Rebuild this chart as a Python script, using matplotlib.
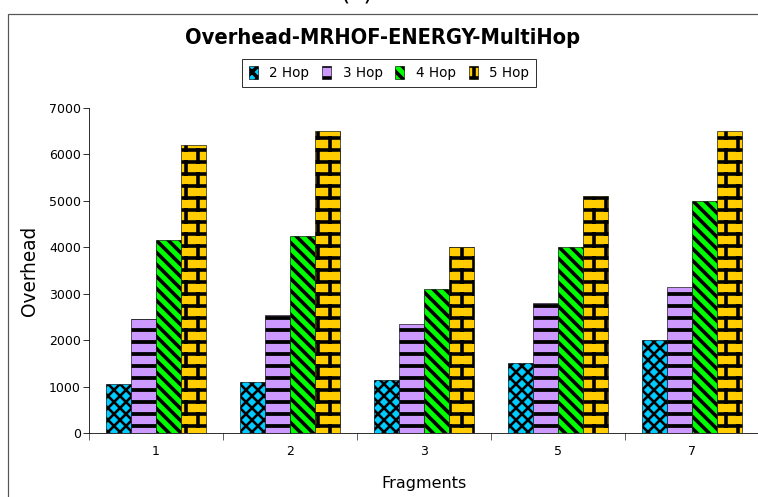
import numpy as np
import matplotlib
matplotlib.use('Agg')
import matplotlib.pyplot as plt
import matplotlib.hatch as mhatch
from matplotlib.path import Path
from matplotlib.patches import Rectangle

fragments = ['1', '2', '3', '5', '7']
hops = ['2 Hop', '3 Hop', '4 Hop', '5 Hop']
hop2 = [1050, 1100, 1150, 1500, 2000]
hop3 = [2450, 2550, 2350, 2800, 3150]
hop4 = [4150, 4250, 3100, 4000, 5000]
hop5 = [6200, 6500, 4000, 5100, 6500]

colors = ['#00CCFF', '#CC99FF', '#00FF00', '#FFCC00']
patterns = ['xx', '-', '\\\\', 'O']
hatch_widths = [2.6, 3.8, 3.6, 3.6]


# brick wall hatch, takes the place of the big circles ('O')
class BrickHatch(mhatch.HatchPatternBase):
    def __init__(self, hatch, density):
        self.rows = hatch.count('O') * density
        self.cols = self.rows // 2
        self.num_vertices = (self.rows + (self.rows + 1) * self.cols) * 2

    def set_vertices_and_codes(self, vertices, codes):
        h = 1.0 / self.rows
        w = 1.0 / self.cols
        segs = []
        for i in range(self.rows):
            y = (i + 0.5) * h
            segs.append(((0.0, y), (1.0, y)))
            shift = w / 4 if i % 2 == 0 else 3 * w / 4
            for j in range(self.cols):
                xj = j * w + shift
                if i < self.rows - 1:
                    segs.append(((xj, y), (xj, y + h)))
                else:
                    segs.append(((xj, y), (xj, 1.0)))
                    segs.append(((xj, 0.0), (xj, h / 2)))
        pts = np.array(segs).reshape(-1, 2)
        vertices[:] = pts
        codes[0::2] = Path.MOVETO
        codes[1::2] = Path.LINETO


mhatch._hatch_types = [t for t in mhatch._hatch_types
                       if t is not mhatch.LargeCircles] + [BrickHatch]

plt.rcParams['hatch.linewidth'] = 3.6
plt.rcParams['font.family'] = 'DejaVu Sans'

fig = plt.figure(figsize=(758 / 72, 497 / 72), dpi=72)
ax = fig.add_axes([89 / 758, 64 / 497, 670 / 758, 325 / 497])

x = np.arange(len(fragments))
w = 0.185
series = [hop2, hop3, hop4, hop5]
for i in range(4):
    bars = ax.bar(x + (i - 1.5) * w, series[i], w, color=colors[i],
                  hatch=patterns[i], edgecolor='black', linewidth=0.6,
                  label=hops[i])
    for b in bars:
        if hasattr(b, 'set_hatch_linewidth'):
            b.set_hatch_linewidth(hatch_widths[i])

ax.set_xlim(-0.5, len(fragments) - 0.5)
ax.set_ylim(0, 7000)
ax.set_yticks(range(0, 7001, 1000))
ax.set_xticks(x)
ax.set_xticklabels(fragments)
ax.set_xticks(np.arange(-0.5, len(fragments)), minor=True)
ax.tick_params(axis='x', which='major', length=0, pad=12, labelsize=12.5)
ax.tick_params(axis='x', which='minor', length=7, direction='out')
ax.tick_params(axis='y', length=6, direction='out', pad=2, labelsize=12.5)
for s in ['top', 'right']:
    ax.spines[s].set_visible(False)

ax.set_ylabel('Overhead', fontsize=18.5)
ax.yaxis.set_label_coords((39 - 89) / 670, 0.5)
ax.set_xlabel('Fragments', fontsize=16)
ax.xaxis.set_label_coords(0.5, (433 - 476) / 325)

fig.text(383 / 758, 1 - 38 / 497, 'Overhead-MRHOF-ENERGY-MultiHop', ha='center',
         va='center', fontsize=21.7, fontweight='bold', fontstretch='condensed')
fig.text(357 / 758, 1 + 1 / 497, '(c)', ha='center', va='baseline', fontsize=24)

leg = fig.legend(loc='center', bbox_to_anchor=(389 / 758, 1 - 73 / 497), ncol=4,
                 fontsize=13.5, fancybox=False, handlelength=0.67,
                 handleheight=1.1, handletextpad=0.85, columnspacing=0.95,
                 borderpad=0.5)
leg.get_frame().set_edgecolor('black')
leg.get_frame().set_linewidth(1.0)

fig.add_artist(Rectangle((8 / 758, -0.1), 1.0, 1.1 - 14 / 497, fill=False,
                         edgecolor='#555555', linewidth=1.2,
                         transform=fig.transFigure))

fig.savefig('out.png', dpi=72)
